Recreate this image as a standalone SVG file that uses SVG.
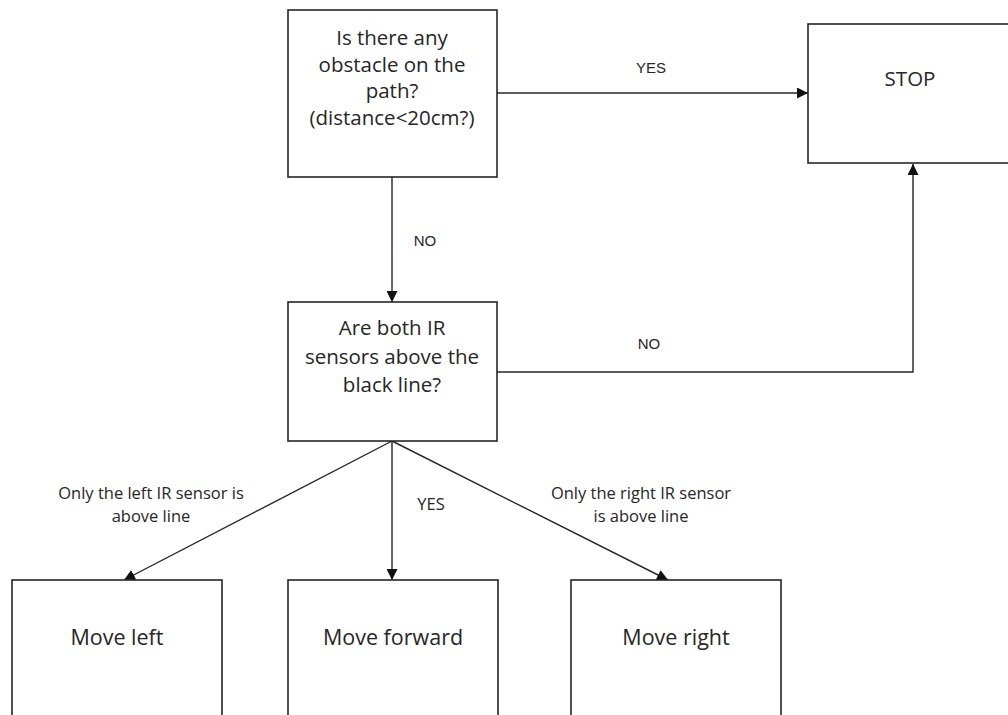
<svg xmlns="http://www.w3.org/2000/svg" width="1008" height="715" viewBox="0 0 1008 715">
<style>
.box{fill:#fff;stroke:#262626;stroke-width:1.6}
.t{font-family:"Open Sans","Liberation Sans",sans-serif;fill:#262626;text-anchor:middle;dominant-baseline:central}
.big{font-size:20.5px}
.mv{font-size:21.5px}
.small{font-size:16.5px}
.lbl{font-size:15px;font-family:"Liberation Sans",sans-serif}
.c{fill:none;stroke:#262626;stroke-width:1.4}
</style>
<defs>
<marker id="ah" viewBox="0 0 10 10" refX="10" refY="5" markerWidth="11" markerHeight="11" markerUnits="userSpaceOnUse" orient="auto">
<path d="M0,0 L10,5 L0,10 z" fill="#111"/>
</marker>
</defs>
<rect width="1008" height="715" fill="#fff"/>
<g id="connectors">
<path class="c" d="M497,93 H808" marker-end="url(#ah)"/>
<path class="c" d="M392,177 V302" marker-end="url(#ah)"/>
<path class="c" d="M497,372 H913 V164" marker-end="url(#ah)"/>
<path class="c" d="M392,441 L124,580" marker-end="url(#ah)"/>
<path class="c" d="M392,441 V580" marker-end="url(#ah)"/>
<path class="c" d="M392,441 L668,580" marker-end="url(#ah)"/>
<text class="t lbl" x="651" y="67">YES</text>
<text class="t lbl" x="425" y="240">NO</text>
<text class="t lbl" x="649" y="343">NO</text>
<text class="t small" x="151" y="492">Only the left IR sensor is</text>
<text class="t small" x="151" y="515">above line</text>
<text class="t small" x="431" y="503">YES</text>
<text class="t small" x="641" y="492">Only the right IR sensor</text>
<text class="t small" x="641" y="515">is above line</text>
</g>
<g id="obstacle">
<rect class="box" x="288" y="10" width="209" height="167"/>
<text class="t big" x="392" y="37">Is there any</text>
<text class="t big" x="392" y="64">obstacle on the</text>
<text class="t big" x="392" y="90">path?</text>
<text class="t big" x="392" y="117">(distance&lt;20cm?)</text>
</g>
<g id="stop">
<rect class="box" x="808" y="24" width="206" height="139"/>
<text class="t big" x="910" y="78">STOP</text>
</g>
<g id="sensors">
<rect class="box" x="288" y="302" width="209" height="139"/>
<text class="t big" x="392" y="327">Are both IR</text>
<text class="t big" x="392" y="356">sensors above the</text>
<text class="t big" x="392" y="384">black line?</text>
</g>
<g id="left">
<rect class="box" x="12" y="580" width="210" height="150"/>
<text class="t mv" x="117" y="636">Move left</text>
</g>
<g id="forward">
<rect class="box" x="288" y="580" width="210" height="150"/>
<text class="t mv" x="393" y="636">Move forward</text>
</g>
<g id="right">
<rect class="box" x="571" y="580" width="210" height="150"/>
<text class="t mv" x="676" y="636">Move right</text>
</g>
</svg>
